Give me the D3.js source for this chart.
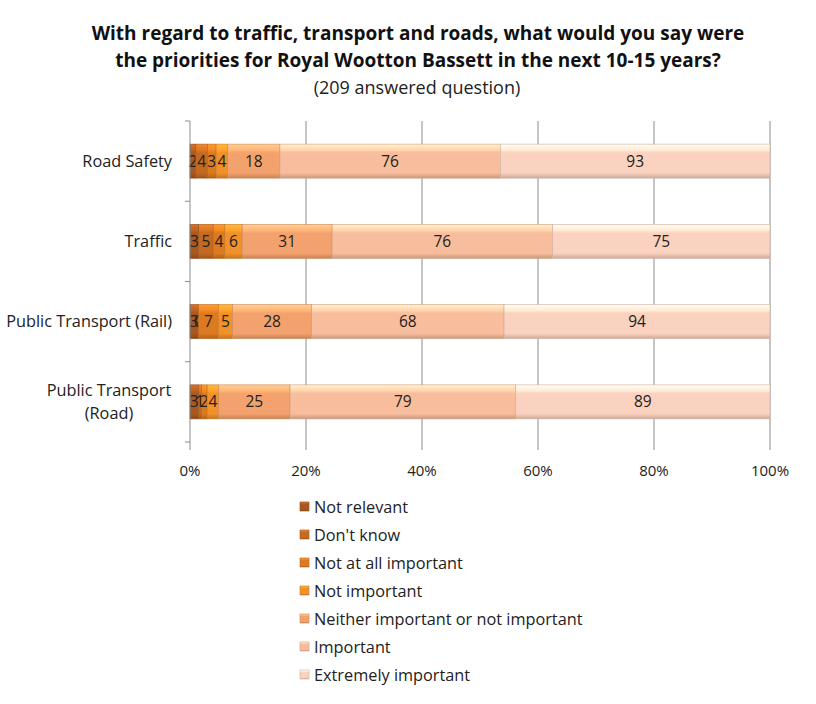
<!DOCTYPE html>
<html>
<head>
<meta charset="utf-8">
<script src="https://cdn.jsdelivr.net/npm/d3@7"></script>
<style>
  body { margin: 0; background: #fff; }
  svg { font-family: "Open Sans", Lato, sans-serif; }
</style>
</head>
<body>
<svg id="drawing_region"></svg>
<script>
// chart values
const categories = ["Road Safety", "Traffic", "Public Transport (Rail)", "Public Transport (Road)"];
const seriesNames = ["Not relevant", "Don't know", "Not at all important", "Not important",
                     "Neither important  or not important", "Important", "Extremely important"];
const notRelevant  = [2, 3, 3, 3];
const dontKnow     = [4, 5, 0, 1];
const notAtAll     = [3, 4, 7, 2];
const notImportant = [4, 6, 5, 4];
const neither      = [18, 31, 28, 25];
const important    = [76, 76, 68, 79];
const extremely    = [93, 75, 94, 89];
const xTicks = [0, 20, 40, 60, 80, 100];

const seriesValues = [notRelevant, dontKnow, notAtAll, notImportant, neither, important, extremely];
const colors = ["#a9581f", "#c26a21", "#db7a20", "#f0912a", "#f4a26d", "#f7bd9c", "#fad2bf"];

const width = 816, height = 704;
const margin = {top: 121, right: 46, bottom: 262, left: 190};
const innerW = width - margin.left - margin.right;
const innerH = height - margin.top - margin.bottom;

const table = categories.map((c, i) => {
    const row = {label: c};
    seriesNames.forEach((s, j) => { row[s] = seriesValues[j][i]; });
    return row;
});

const stacked = d3.stack()
    .keys(seriesNames)
    .offset(d3.stackOffsetExpand)(table);

const svg = d3.select('#drawing_region')
    .attr('width', width)
    .attr('height', height);

// bevel-ish gradients
const defs = svg.append('defs');
colors.forEach((c, i) => {
    const g = defs.append('linearGradient')
        .attr('id', 'grad' + i)
        .attr('x1', 0).attr('y1', 0).attr('x2', 0).attr('y2', 1);
    g.append('stop').attr('offset', '0%').attr('stop-color', d3.color(c).brighter(0.7));
    g.append('stop').attr('offset', '18%').attr('stop-color', d3.color(c).brighter(0.3));
    g.append('stop').attr('offset', '26%').attr('stop-color', c);
    g.append('stop').attr('offset', '85%').attr('stop-color', c);
    g.append('stop').attr('offset', '100%').attr('stop-color', d3.color(c).darker(0.6));
});

const chart = svg.append('g')
    .attr('transform', `translate(${margin.left}, ${margin.top})`);

const xscale = d3.scaleLinear().domain([0, 1]).range([0, innerW]);
const yscale = d3.scaleBand()
    .domain(categories)
    .range([0, innerH])
    .paddingInner(0.576)
    .paddingOuter(0.288);

// title
const titleLines = ["With regard to traffic, transport and roads, what would you say were",
                    "the priorities for Royal Wootton Bassett in the next 10-15 years?"];
titleLines.forEach((t, k) => {
    svg.append('text')
        .attr('x', 418).attr('y', 40 + k * 27)
        .attr('text-anchor', 'middle')
        .attr('font-size', 19).attr('font-weight', 'bold')
        .attr('fill', '#111')
        .text(t);
});
svg.append('text')
    .attr('x', 417).attr('y', 94)
    .attr('text-anchor', 'middle')
    .attr('font-size', 18)
    .attr('fill', '#222')
    .text("(209 answered question)");

// gridlines (extend below as tick marks)
chart.append('g')
    .selectAll('line')
    .data(xTicks.slice(1))
    .enter()
    .append('line')
    .attr('x1', d => xscale(d / 100))
    .attr('x2', d => xscale(d / 100))
    .attr('y1', 0)
    .attr('y2', innerH + 8)
    .attr('stroke', '#8c8c8c')
    .attr('stroke-width', 1);

// x tick labels
chart.append('g')
    .selectAll('text')
    .data(xTicks)
    .enter()
    .append('text')
    .attr('x', d => xscale(d / 100))
    .attr('y', innerH + 34)
    .attr('text-anchor', 'middle')
    .attr('font-size', 15)
    .attr('fill', '#222')
    .text(d => d + '%');

// bars
const layer = chart.selectAll('g.layer')
    .data(stacked)
    .enter()
    .append('g')
    .attr('class', 'layer');

layer.selectAll('rect')
    .data(d => d.map(p => ({p: p, label: p.data.label})))
    .enter()
    .append('rect')
    .attr('x', d => xscale(d.p[0]))
    .attr('y', d => yscale(d.label))
    .attr('width', d => xscale(d.p[1]) - xscale(d.p[0]))
    .attr('height', yscale.bandwidth())
    .attr('fill', function() { return 'url(#grad' + d3.select(this.parentNode).datum().index + ')'; })
    .attr('stroke', function() { return d3.color(colors[d3.select(this.parentNode).datum().index]).darker(0.5); })
    .attr('stroke-width', 0.6);

// data labels
layer.selectAll('text')
    .data(d => d.map(p => ({p: p, label: p.data.label, v: p.data[d.key]})))
    .enter()
    .append('text')
    .attr('x', d => (xscale(d.p[0]) + xscale(d.p[1])) / 2)
    .attr('y', d => yscale(d.label) + yscale.bandwidth() / 2 + 5.5)
    .attr('text-anchor', 'middle')
    .attr('font-size', 15.5)
    .attr('fill', '#222')
    .text(d => d.v);

// y axis
const yaxis = chart.append('g');
yaxis.append('line')
    .attr('x1', 0).attr('x2', 0)
    .attr('y1', 0).attr('y2', innerH + 8)
    .attr('stroke', '#8c8c8c');
const boundaries = categories.map(c => yscale(c) - yscale.step() * yscale.paddingInner() / 2);
boundaries.push(innerH);
boundaries[0] = 0;
yaxis.selectAll('line.tick')
    .data(boundaries)
    .enter()
    .append('line')
    .attr('class', 'tick')
    .attr('x1', -5).attr('x2', 0)
    .attr('y1', d => d).attr('y2', d => d)
    .attr('stroke', '#8c8c8c');

// category labels
categories.forEach(c => {
    const cy = yscale(c) + yscale.bandwidth() / 2;
    const lines = c === "Public Transport (Road)" ? ["Public Transport", "(Road)"] : [c];
    lines.forEach((t, k) => {
        chart.append('text')
            .attr('x', lines.length > 1 ? -81 : -18)
            .attr('y', cy + 5.5 + (k - (lines.length - 1) / 2) * 23)
            .attr('text-anchor', lines.length > 1 ? 'middle' : 'end')
            .attr('font-size', 16.3)
            .attr('fill', '#222')
            .text(t);
    });
});

// legend
const legend = svg.append('g').attr('transform', 'translate(300, 507)');
seriesNames.forEach((s, i) => {
    const row = legend.append('g').attr('transform', `translate(0, ${i * 28})`);
    row.append('rect')
        .attr('x', 0).attr('y', -5)
        .attr('width', 9).attr('height', 9)
        .attr('fill', 'url(#grad' + i + ')')
        .attr('stroke', d3.color(colors[i]).darker(0.5))
        .attr('stroke-width', 0.6);
    row.append('text')
        .attr('x', 14).attr('y', 6)
        .attr('font-size', 16.3)
        .attr('fill', '#222')
        .text(s);
});
</script>
</body>
</html>
